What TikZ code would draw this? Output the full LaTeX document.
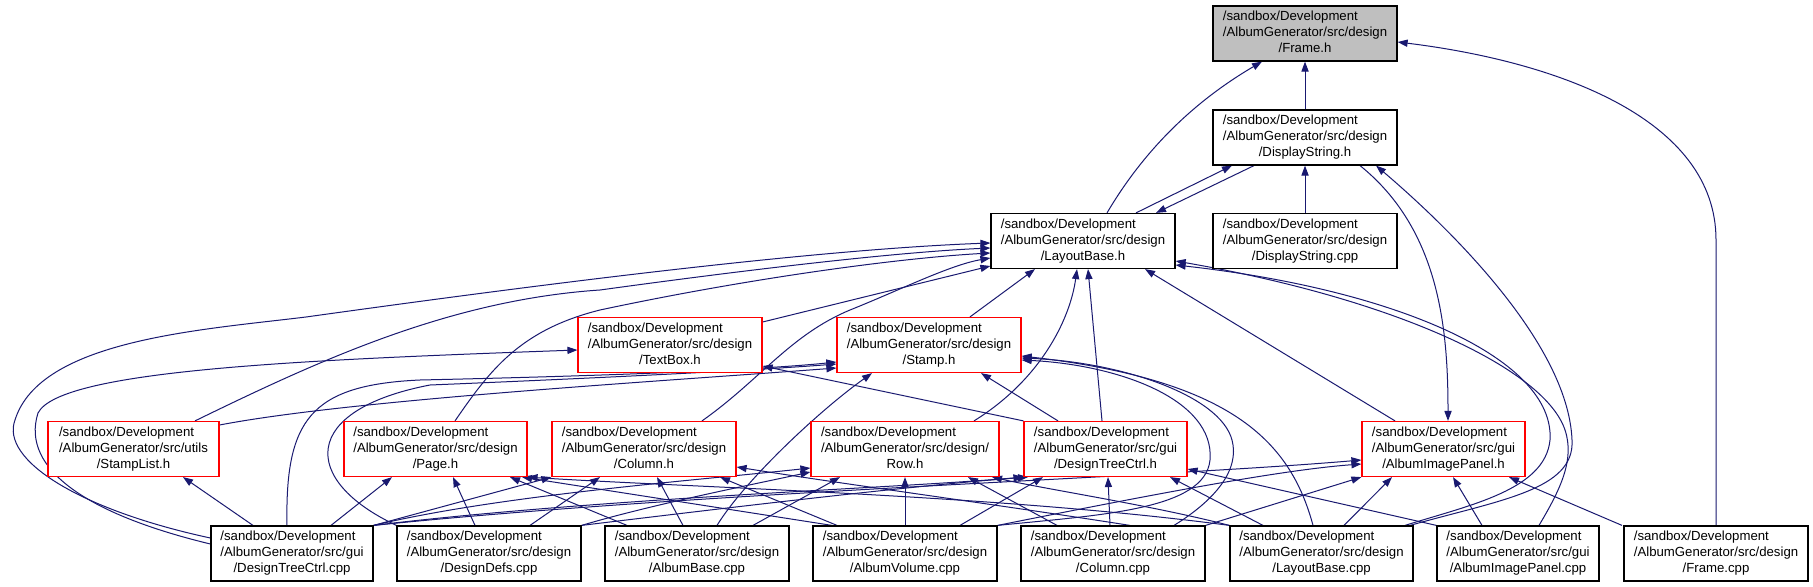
\documentclass[tikz,border=0pt]{standalone}
\usepackage{fontspec}
\setmainfont{Liberation Sans}
\usetikzlibrary{arrows.meta}
\definecolor{edgeblue}{HTML}{191970}
\definecolor{nodegray}{HTML}{BFBFBF}
\pgfdeclarelayer{bg}
\pgfdeclarelayer{edges}
\pgfsetlayers{bg,edges,main}
\newcommand\lbl[3]{\begin{tabular}{@{}l@{}}#1\\#2\\\multicolumn{1}{@{}c@{}}{#3}\end{tabular}}
\begin{document}
\begin{tikzpicture}[x=0.5pt,y=-0.5pt,
  box/.style={draw=black,line width=0.6pt,fill=white,rectangle,minimum height=27.5pt,inner sep=0pt,font=\fontsize{6.6}{8}\selectfont},
  redbox/.style={box,draw=red},
  e/.style={draw=edgeblue,line width=0.5pt,-{Triangle[length=5pt,width=3.6pt]}}]
\useasboundingbox (0,0) rectangle (1813,587);
\begin{pgfonlayer}{bg}
\fill[white] (0,0) rectangle (1813,587);
\end{pgfonlayer}
% nodes
\node[box,fill=nodegray,minimum width=92pt] (frameh) at (1305,33.5) {\lbl{/sandbox/Development}{/AlbumGenerator/src/design}{/Frame.h}};
\node[box,minimum width=92pt] (dsh) at (1305,137.5) {\lbl{/sandbox/Development}{/AlbumGenerator/src/design}{/DisplayString.h}};
\node[box,minimum width=92pt] (lbh) at (1083,241) {\lbl{/sandbox/Development}{/AlbumGenerator/src/design}{/LayoutBase.h}};
\node[box,minimum width=92pt] (dscpp) at (1305,241) {\lbl{/sandbox/Development}{/AlbumGenerator/src/design}{/DisplayString.cpp}};
\node[redbox,minimum width=92pt] (textbox) at (670,345) {\lbl{/sandbox/Development}{/AlbumGenerator/src/design}{/TextBox.h}};
\node[redbox,minimum width=92pt] (stamp) at (929,345) {\lbl{/sandbox/Development}{/AlbumGenerator/src/design}{/Stamp.h}};
\node[redbox,minimum width=85.5pt] (stamplist) at (133.5,449) {\lbl{/sandbox/Development}{/AlbumGenerator/src/utils}{/StampList.h}};
\node[redbox,minimum width=91.5pt] (page) at (435.5,449) {\lbl{/sandbox/Development}{/AlbumGenerator/src/design}{/Page.h}};
\node[redbox,minimum width=92pt] (column) at (644,449) {\lbl{/sandbox/Development}{/AlbumGenerator/src/design}{/Column.h}};
\node[redbox,minimum width=94pt] (row) at (905,449) {\lbl{/sandbox/Development}{/AlbumGenerator/src/design/}{Row.h}};
\node[redbox,minimum width=81.5pt] (dtch) at (1105.5,449) {\lbl{/sandbox/Development}{/AlbumGenerator/src/gui}{/DesignTreeCtrl.h}};
\node[redbox,minimum width=81.5pt] (aiph) at (1443.5,449) {\lbl{/sandbox/Development}{/AlbumGenerator/src/gui}{/AlbumImagePanel.h}};
\node[box,minimum width=81pt] (dtccpp) at (292,553.5) {\lbl{/sandbox/Development}{/AlbumGenerator/src/gui}{/DesignTreeCtrl.cpp}};
\node[box,minimum width=92pt] (ddcpp) at (489,553.5) {\lbl{/sandbox/Development}{/AlbumGenerator/src/design}{/DesignDefs.cpp}};
\node[box,minimum width=92pt] (abcpp) at (697,553.5) {\lbl{/sandbox/Development}{/AlbumGenerator/src/design}{/AlbumBase.cpp}};
\node[box,minimum width=92pt] (avcpp) at (905,553.5) {\lbl{/sandbox/Development}{/AlbumGenerator/src/design}{/AlbumVolume.cpp}};
\node[box,minimum width=92pt] (colcpp) at (1113,553.5) {\lbl{/sandbox/Development}{/AlbumGenerator/src/design}{/Column.cpp}};
\node[box,minimum width=91.5pt] (lbcpp) at (1321.5,553.5) {\lbl{/sandbox/Development}{/AlbumGenerator/src/design}{/LayoutBase.cpp}};
\node[box,minimum width=81pt] (aipcpp) at (1518,553.5) {\lbl{/sandbox/Development}{/AlbumGenerator/src/gui}{/AlbumImagePanel.cpp}};
\node[box,minimum width=92pt] (framecpp) at (1716,553.5) {\lbl{/sandbox/Development}{/AlbumGenerator/src/design}{/Frame.cpp}};
\begin{pgfonlayer}{edges}
% into Frame.h
\draw[e] (lbh.north -| 1107,0) .. controls (1150,140) and (1205,95) .. (frameh.south -| 1262,0);
\draw[e] (dsh.north) -- (frameh.south);
\draw[e] (framecpp.north) -- (framecpp.north |- 0,240) .. controls (1716,120) and (1560,62) .. (frameh.east |- 0,42);
% DisplayString.h
\draw[e] (lbh.north -| 1136,0) -- (dsh.south -| 1232,0);
\draw[e] (dsh.south -| 1254,0) -- (lbh.north -| 1156,0);
\draw[e] (dscpp.north) -- (dsh.south);
\draw[e] (dsh.south -| 1360,0) .. controls (1440,230) and (1448,330) .. (aiph.north -| 1448,0);
\draw[e] (lbcpp.north -| 1410,0) .. controls (1500,500) and (1575,490) .. (1572,440) .. controls (1568,340) and (1440,220) .. (dsh.south -| 1376,0);
% into LayoutBase.h
\draw[e] (dtccpp.west |- 0,538) .. controls (80,510) and (0,460) .. (15,420) .. controls (40,340) and (200,330) .. (306,317) .. controls (500,290) and (800,250) .. (lbh.west |- 0,243);
\draw[e] (stamplist.north -| 195,0) .. controls (320,360) and (450,300) .. (600,290) .. controls (760,268) and (900,252) .. (lbh.west |- 0,248);
\draw[e] (page.north -| 455,0) .. controls (490,370) and (520,330) .. (600,310) .. controls (750,278) and (900,258) .. (lbh.west |- 0,253);
\draw[e] (column.north -| 702,0) .. controls (760,380) and (790,335) .. (850,310) .. controls (900,290) and (950,265) .. (lbh.west |- 0,258);
\draw[e] (textbox.east |- 0,322) -- (lbh.west |- 0,266);
\draw[e] (stamp.north -| 970,0) -- (lbh.south -| 1035,0);
\draw[e] (row.north -| 974,0) .. controls (1040,380) and (1070,320) .. (lbh.south -| 1077,0);
\draw[e] (dtch.north -| 1102,0) -- (lbh.south -| 1088,0);
\draw[e] (aiph.north -| 1395,0) -- (lbh.south -| 1145,0);
\draw[e] (lbcpp.north -| 1405,0) .. controls (1470,505) and (1545,490) .. (1550,440) .. controls (1555,360) and (1400,290) .. (lbh.east |- 0,265);
\draw[e] (aipcpp.north -| 1539,0) .. controls (1560,490) and (1575,460) .. (1565,430) .. controls (1545,370) and (1400,300) .. (lbh.east |- 0,261);
% TextBox.h
\draw[e] (dtccpp.west |- 0,544) .. controls (90,515) and (20,470) .. (38,413) .. controls (60,370) and (300,360) .. (textbox.west |- 0,350);
\draw[e] (dtch.north west) -- (textbox.east |- 0,366);
% Stamp.h
\draw[e] (stamplist.east |- 0,425) .. controls (350,400) and (650,382) .. (stamp.west |- 0,368);
\draw[e] (dtccpp.north -| 287,0) .. controls (285,420) and (310,385) .. (420,380) .. controls (600,376) and (760,370) .. (stamp.west |- 0,362);
\draw[e] (ddcpp.north west) .. controls (300,480) and (300,410) .. (430,385) .. controls (600,378) and (760,370) .. (stamp.west |- 0,364);
\draw[e] (abcpp.north -| 717,0) .. controls (745,480) and (820,410) .. (stamp.south -| 872,0);
\draw[e] (dtch.north -| 1058,0) -- (stamp.south -| 981,0);
\draw[e] (avcpp.north east) .. controls (1100,515) and (1205,510) .. (1210,460) .. controls (1215,400) and (1120,365) .. (stamp.east |- 0,360);
\draw[e] (colcpp.north -| 1174,0) .. controls (1215,500) and (1240,470) .. (1232,440) .. controls (1220,395) and (1120,362) .. (stamp.east |- 0,358);
\draw[e] (lbcpp.north -| 1313,0) .. controls (1290,440) and (1230,380) .. (stamp.east |- 0,356);
% StampList.h
\draw[e] (dtccpp.north -| 253,0) -- (stamplist.south -| 183,0);
% Page.h
\draw[e] (dtccpp.north -| 331,0) -- (page.south -| 392,0);
\draw[e] (ddcpp.north -| 475,0) -- (page.south -| 453,0);
\draw[e] (abcpp.north -| 627,0) -- (page.south -| 510,0);
\draw[e] (avcpp.north -| 832,0) -- (page.south -| 522,0);
\draw[e] (lbcpp.north west) .. controls (1000,495) and (700,488) .. (page.south east);
% Column.h
\draw[e] (dtccpp.north east) -- (column.south west);
\draw[e] (ddcpp.north -| 530,0) -- (column.south -| 600,0);
\draw[e] (abcpp.north -| 683,0) -- (column.south -| 657,0);
\draw[e] (avcpp.north -| 837,0) -- (column.south -| 720,0);
\draw[e] (colcpp.north -| 1130,0) .. controls (1000,505) and (850,485) .. (column.east |- 0,467);
% Row.h
\draw[e] (dtccpp.north east) .. controls (500,495) and (700,480) .. (row.west |- 0,468);
\draw[e] (ddcpp.north east) .. controls (650,505) and (750,485) .. (row.west |- 0,472);
\draw[e] (abcpp.north -| 753,0) -- (row.south -| 840,0);
\draw[e] (avcpp.north) -- (row.south);
\draw[e] (colcpp.north -| 1057,0) -- (row.south -| 968,0);
\draw[e] (lbcpp.north west) .. controls (1150,505) and (1050,490) .. (row.south -| 992,0);
% DesignTreeCtrl.h
\draw[e] (dtccpp.north east) .. controls (600,498) and (900,488) .. (dtch.south west);
\draw[e] (ddcpp.north east) .. controls (750,505) and (920,485) .. (dtch.south -| 1028,0);
\draw[e] (avcpp.north -| 960,0) -- (dtch.south -| 1043,0);
\draw[e] (colcpp.north -| 1110,0) -- (dtch.south -| 1108,0);
\draw[e] (lbcpp.north -| 1263,0) -- (dtch.south -| 1170,0);
\draw[e] (aipcpp.north west) -- (dtch.east |- 0,469);
% AlbumImagePanel.h
\draw[e] (dtccpp.north east) .. controls (700,492) and (1150,478) .. (aiph.west |- 0,460);
\draw[e] (avcpp.north east) .. controls (1150,495) and (1280,470) .. (aiph.west |- 0,464);
\draw[e] (colcpp.north east) -- (aiph.south west);
\draw[e] (lbcpp.north -| 1344,0) -- (aiph.south -| 1392,0);
\draw[e] (aipcpp.north -| 1482,0) -- (aiph.south -| 1453,0);
\draw[e] (framecpp.north -| 1622,0) -- (aiph.south -| 1509,0);
\end{pgfonlayer}
\end{tikzpicture}
\end{document}
